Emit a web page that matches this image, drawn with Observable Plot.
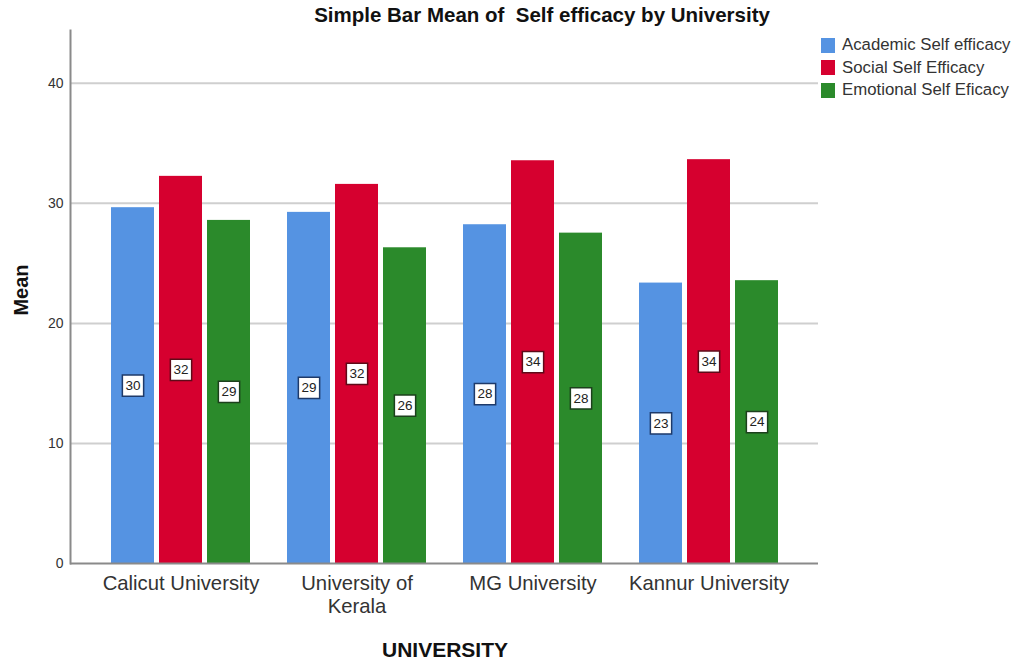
<!DOCTYPE html>
<html>
<head>
<meta charset="utf-8">
<script src="https://cdn.jsdelivr.net/npm/d3@7"></script>
<script src="https://cdn.jsdelivr.net/npm/@observablehq/plot@0.6"></script>
<style>
  body { margin: 0; background: #fff; font-family: Arial, "Liberation Sans", sans-serif; }
  #wrap { position: relative; width: 1016px; height: 660px; overflow: hidden; }
  #chart { position: absolute; left: 0; top: 0; }
  .ov { position: absolute; white-space: pre; color: #111; }
  #title { left: 542px; top: 3px; transform: translateX(-50%); font-weight: bold; font-size: 20.5px; }
  #ylab { left: 21px; top: 290px; transform: translate(-50%, -50%) rotate(-90deg); font-weight: bold; font-size: 20px; }
  #xlab { left: 445px; top: 650px; transform: translate(-50%, -50%); font-weight: bold; font-size: 21px; }
  #legend { position: absolute; left: 821px; top: 34px; }
  .lg { display: flex; align-items: center; height: 22.5px; }
  .sw { width: 14px; height: 15px; margin-right: 7px; }
  .lt { font-size: 16.8px; color: #333; white-space: nowrap; }
</style>
</head>
<body>
<div id="wrap">
  <div id="chart"></div>
  <div class="ov" id="title"></div>
  <div class="ov" id="ylab"></div>
  <div class="ov" id="xlab"></div>
  <div id="legend"></div>
</div>
<script>
const titleText = "Simple Bar Mean of  Self efficacy by University";
const yTitle = "Mean";
const xTitle = "UNIVERSITY";
const universities = ["Calicut University", "University of Kerala", "MG University", "Kannur University"];
const tickLabels = ["Calicut University", "University of\nKerala", "MG University", "Kannur University"];
const series = ["Academic Self efficacy", "Social Self Efficacy", "Emotional Self Eficacy"];
const academic = [29.64, 29.25, 28.22, 23.36];
const social = [32.25, 31.58, 33.55, 33.64];
const emotional = [28.58, 26.30, 27.52, 23.56];
const yTicks = [0, 10, 20, 30, 40];
const colors = ["#5593E2", "#D6002F", "#2B8A2B"];
const boxStrokes = ["#1E3A6A", "#5E0A18", "#1C401C"];

document.getElementById("title").textContent = titleText;
document.getElementById("ylab").textContent = yTitle;
document.getElementById("xlab").textContent = xTitle;

const valuesBySeries = [academic, social, emotional];
const rows = universities.flatMap((u, i) => series.map((s, k) => ({u, s, k, v: valuesBySeries[k][i]})));

const barW = 43, gap = 5; // sub-bar geometry inside each band
const marks = [];
marks.push(Plot.gridY(yTicks.filter(t => t > 0), {stroke: "#cfcfcf", strokeOpacity: 1, strokeWidth: 2}));
series.forEach((s, k) => {
  const data = rows.filter(d => d.k === k);
  const insetLeft = k * (barW + gap);
  const insetRight = (2 - k) * (barW + gap);
  const dx = (k - 1) * (barW + gap);
  marks.push(Plot.barY(data, {x: "u", y: "v", fill: "s", insetLeft, insetRight}));
  marks.push(Plot.dot(data, {x: "u", y: d => d.v / 2, dx, symbol: "square", r: 12, fill: "white", stroke: boxStrokes[k], strokeWidth: 1.5}));
  marks.push(Plot.text(data, {x: "u", y: d => d.v / 2, dx, text: d => String(Math.round(d.v)), fontSize: 13.5, fill: "#222"}));
});
marks.push(Plot.ruleY([0], {stroke: "#8a8a8a", strokeWidth: 2}));
marks.push(Plot.frame({anchor: "left", stroke: "#8a8a8a", strokeWidth: 2}));
marks.push(Plot.axisY({ticks: yTicks, tickSize: 0, tickPadding: 7, fontSize: 14, fill: "#333", label: null}));
marks.push(Plot.axisX({tickSize: 0, tickPadding: 10, fontSize: 20.3, lineHeight: 1.15, fill: "#333",
  tickFormat: d => tickLabels[universities.indexOf(d)], label: null}));

const chart = Plot.plot({
  width: 1016,
  height: 660,
  marginTop: 30,
  marginBottom: 97,
  marginLeft: 70,
  marginRight: 198,
  style: {fontFamily: "Arial, 'Liberation Sans', sans-serif", background: "white"},
  x: {domain: universities, paddingInner: 0.2125, paddingOuter: 0.225, axis: null},
  y: {domain: [0, 44.4], axis: null},
  color: {domain: series, range: colors},
  marks
});
document.getElementById("chart").appendChild(chart);

const legend = document.getElementById("legend");
series.forEach((s, k) => {
  const row = document.createElement("div");
  row.className = "lg";
  const sw = document.createElement("div");
  sw.className = "sw";
  sw.style.background = colors[k];
  const lt = document.createElement("span");
  lt.className = "lt";
  lt.textContent = s;
  row.appendChild(sw);
  row.appendChild(lt);
  legend.appendChild(row);
});
</script>
</body>
</html>
